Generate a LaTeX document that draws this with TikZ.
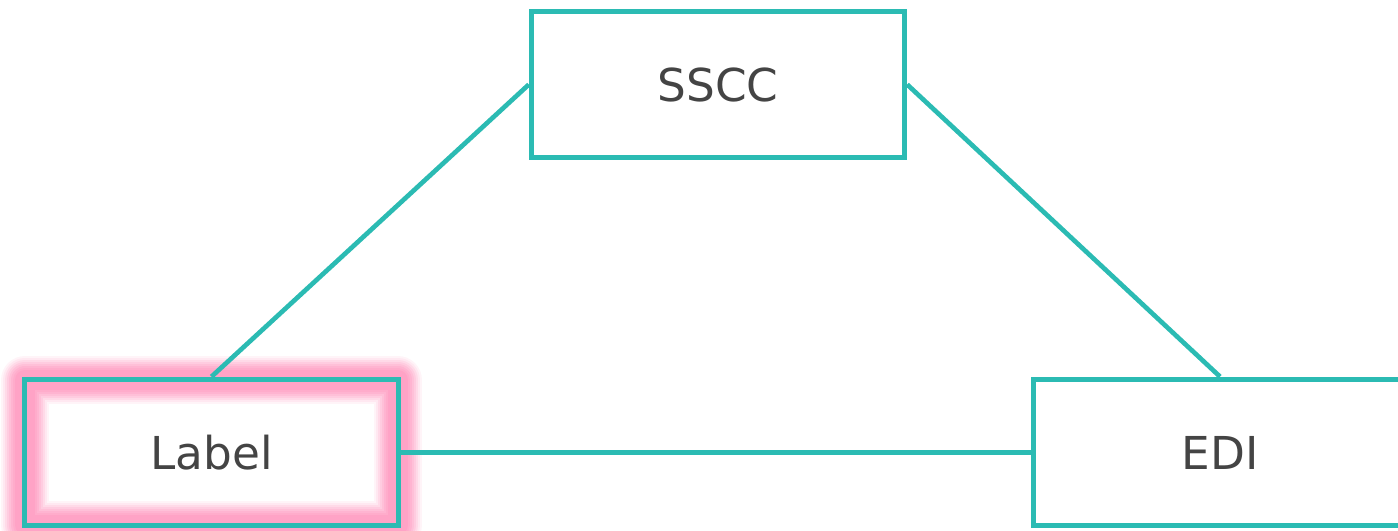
\documentclass[tikz,border=0pt]{standalone}
\usepackage{fontspec}
\setmainfont{DejaVu Sans}
\usetikzlibrary{math, backgrounds}

\definecolor{tealline}{HTML}{2BBBB3}
\definecolor{glowpink}{HTML}{FFA3C6}
\definecolor{textgrey}{HTML}{444444}

\begin{document}
\begin{tikzpicture}[x=0.75pt, y=-0.75pt, line width=3.75pt,
    box/.style={draw=tealline, rectangle, minimum width=280pt, minimum height=110pt,
        text=textgrey, font=\fontsize{34pt}{0}\selectfont, inner sep=0pt},
    link/.style={draw=tealline, line width=3.5pt}]
    \tikzmath{
        \topx=718;
        \topy=84.5;
        \lowy=452.5;
        \leftx=211.5;
        \rightx=1220;
    }
    \useasboundingbox (0, 0) rectangle (1398, 531);

    % nodes
    \node [box] (sscc) at (\topx, \topy) {SSCC};
    \node [box] (label) at (\leftx, \lowy) {Label};
    \node [box] (edi) at (\rightx, \lowy) {EDI};

    % glow round the label box
    \begin{pgfonlayer}{background}
        \foreach \w/\o in {48/0.12, 44/0.15, 40/0.2, 36/0.25, 32/0.3, 28/0.4, 24/0.5, 20/1}{%
                \draw [glowpink, line width=\w*0.75pt, opacity=\o, line join=round]
                ([shift={(3, 3)}] label.north west) rectangle ([shift={(-3, -3)}] label.south east);
            }
    \end{pgfonlayer}

    % links
    \draw [link] (sscc.west) -- (label.north);
    \draw [link] (sscc.east) -- (edi.north);
    \draw [link] (label.east) -- (edi.west);
\end{tikzpicture}
\end{document}
